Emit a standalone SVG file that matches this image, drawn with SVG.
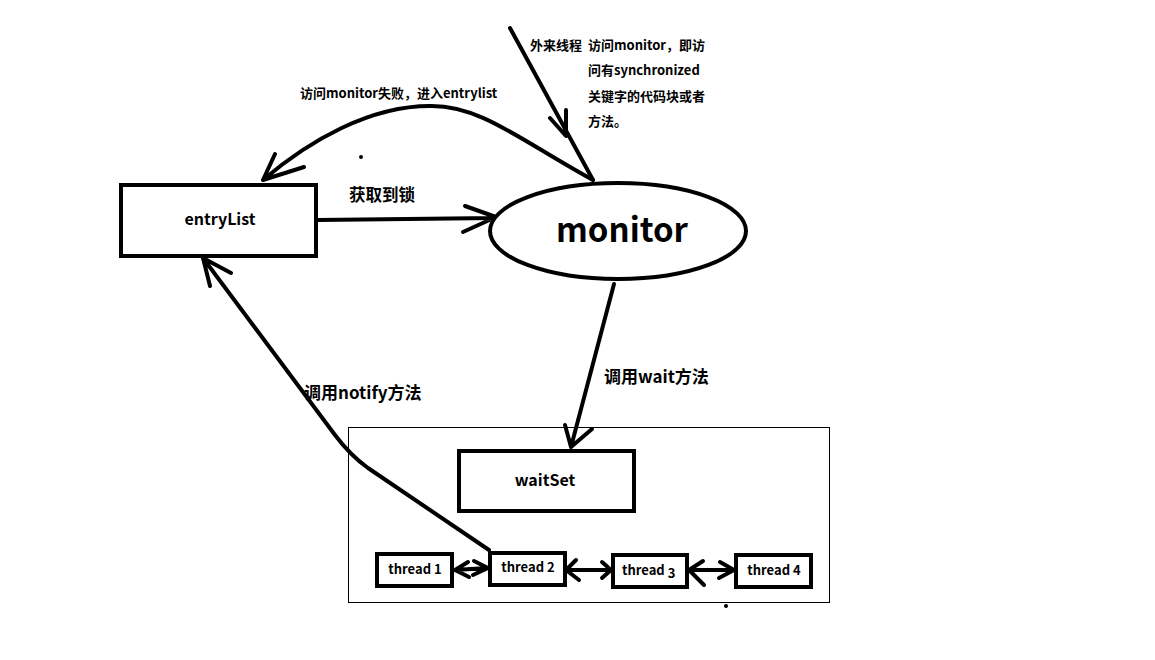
<svg xmlns="http://www.w3.org/2000/svg" width="1155" height="660" viewBox="0 0 1155 660">
<style>
.box{fill:#fff;stroke:#000;stroke-width:4}
.ln{fill:none;stroke:#000;stroke-width:4;stroke-linecap:round;stroke-linejoin:round}
.t{font-family:"Noto Sans CJK SC","Open Sans",sans-serif;font-weight:bold;fill:#000}
</style>
<rect width="1155" height="660" fill="#fff"/>
<g id="frame"><rect x="348.5" y="427.5" width="481" height="175" fill="none" stroke="#000" stroke-width="1"/></g>
<g id="connectors">
  <path class="ln" d="M318,220 L495,218 M465,206 L496,217 L463,232"/>
  <path class="ln" d="M593,180 C520,140 480,105 430,106 C370,106 310,140 263,180 M275,154 L263,180 L304,167"/>
  <path class="ln" d="M510,28 L593,180 M550,118 L566,136 L566,110"/>
  <path class="ln" d="M614,284 L571,447 M565,425 L571,447 L592,429"/>
  <path class="ln" d="M489,550 L368,468 Q350,455 335,435 L203,258 M210,286 L203,258 L231,273"/>
  <path class="ln" d="M454,570 L488,568 M468,562 L455,570 L469,577 M474,561 L488,568 L473,575"/>
  <path class="ln" d="M566,570 L611,570 M576,560 L566,570 L579,580 M602,562 L611,570 L602,578"/>
  <path class="ln" d="M689,570 L734,570 M703,561 L689,570 L704,585 M720,562 L734,570 L719,578"/>
</g>
<g id="entryList"><rect class="box" x="121" y="185" width="195" height="71"/><text class="t" x="220" y="225" font-size="16" text-anchor="middle">entryList</text></g>
<g id="monitor"><ellipse class="box" cx="618" cy="231" rx="128" ry="48"/><text class="t" x="622" y="242" font-size="33" text-anchor="middle">monitor</text></g>
<g id="waitSet"><rect class="box" x="459" y="451" width="175" height="60"/><text class="t" x="545" y="486" font-size="16" text-anchor="middle">waitSet</text></g>
<g id="thread1"><rect class="box" x="377" y="554" width="75" height="32"/><text class="t" x="415" y="574" font-size="13" text-anchor="middle">thread 1</text></g>
<g id="thread2"><rect class="box" x="490" y="553" width="75" height="32"/><text class="t" x="528" y="572" font-size="13" text-anchor="middle">thread 2</text></g>
<g id="thread3"><rect class="box" x="613" y="555" width="74" height="32"/><text class="t" x="622" y="575" font-size="13">thread <tspan dy="3">3</tspan></text></g>
<g id="thread4"><rect class="box" x="736" y="555" width="75" height="32"/><text class="t" x="774" y="575" font-size="13" text-anchor="middle">thread 4</text></g>
<g id="labels">
  <text class="t" x="349" y="201" font-size="16.5">获取到锁</text>
  <text class="t" x="300" y="98" font-size="13">访问monitor失败，进入entrylist</text>
  <text class="t" x="530" y="50" font-size="13">外来线程</text>
  <text class="t" x="588" y="50" font-size="13">访问monitor，即访</text>
  <text class="t" x="588" y="75" font-size="13">问有synchronized</text>
  <text class="t" x="588" y="101" font-size="13">关键字的代码块或者</text>
  <text class="t" x="588" y="126" font-size="13">方法。</text>
  <text class="t" x="604" y="383" font-size="17">调用wait方法</text>
  <text class="t" x="304" y="399" font-size="17">调用notify方法</text>
</g>
<g id="dots"><circle cx="361" cy="157" r="2"/><circle cx="726" cy="606" r="2"/></g>
</svg>
